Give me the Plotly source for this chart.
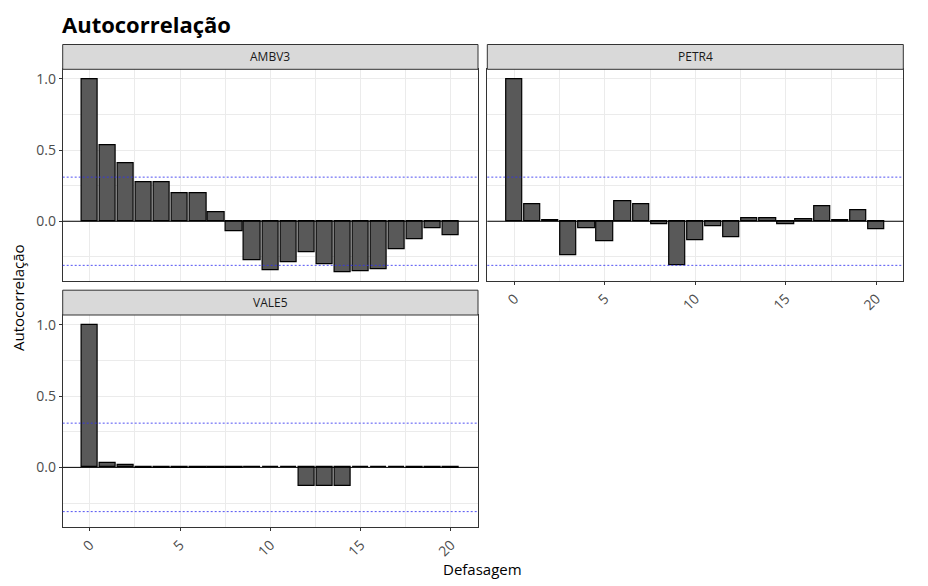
import plotly.graph_objects as go

# defasagens e autocorrelacoes
lags = list(range(0, 21))

acf_ambv3 = [1.0, 0.534, 0.41, 0.276, 0.274, 0.197, 0.197, 0.063, -0.073, -0.272, -0.342,
             -0.286, -0.22, -0.30, -0.358, -0.349, -0.337, -0.197, -0.124, -0.049, -0.098]
acf_petr4 = [1.0, 0.119, 0.007, -0.237, -0.047, -0.143, 0.143, 0.117, -0.021, -0.309, -0.131,
             -0.033, -0.11, 0.019, 0.019, -0.019, 0.012, 0.105, 0.009, 0.077, -0.054]
acf_vale5 = [1.0, 0.033, 0.014, -0.007, -0.007, -0.007, -0.007, -0.007, -0.007, 0.005, 0.005,
             0.005, -0.133, -0.133, -0.133, 0.002, 0.002, 0.002, -0.002, -0.005, -0.005]

ativos = ["AMBV3", "PETR4", "VALE5"]
limite = 0.31  # intervalo de confianca

# a pagina tem 8px de margem no body
OFF = 8
W, H = 928 - OFF, 586 - OFF
def fx(px):
    return (px - OFF) / W
def fy(px):
    return 1 - (px - OFF) / H

# paineis (em pixels da tela): x0, x1, y_top, y_bottom
paineis = [(62.7, 478, 69.3, 281), (487.3, 903.3, 69.3, 281), (62.7, 478, 315, 527.3)]
strip_h = 24.8

fig = go.Figure()

series = [acf_ambv3, acf_petr4, acf_vale5]
for i, (nome, vals) in enumerate(zip(ativos, series)):
    n = "" if i == 0 else str(i + 1)
    fig.add_trace(go.Bar(x=lags, y=vals, width=0.9, xaxis="x" + n, yaxis="y" + n,
                         marker=dict(color="#595959", line=dict(color="black", width=1.2)),
                         showlegend=False))

    x0, x1, yt, yb = paineis[i]
    grid = "#ebebeb"
    fig.layout["xaxis" + n] = dict(
        domain=[fx(x0), fx(x1)], anchor="y" + n, range=[-1.495, 21.495],
        tickvals=[0, 5, 10, 15, 20], ticktext=["0", "5", "10", "15", "20"],
        showticklabels=(i != 0), ticks="outside" if i != 0 else "", ticklen=3,
        tickcolor="#333333", tickangle=-45,
        tickfont=dict(family="Open Sans", size=14, color="#4d4d4d"),
        showgrid=True, gridcolor=grid, gridwidth=1.1,
        minor=dict(tickvals=[2.5, 7.5, 12.5, 17.5], showgrid=True, gridcolor=grid, gridwidth=0.6),
        showline=True, mirror=True, linecolor="#333333", linewidth=1, zeroline=False)
    fig.layout["yaxis" + n] = dict(
        domain=[fy(yb), fy(yt)], anchor="x" + n, range=[-0.42, 1.068],
        tickvals=[0, 0.5, 1.0], ticktext=["0.0", "0.5", "1.0"],
        showticklabels=(i != 1), ticks="outside" if i != 1 else "", ticklen=3,
        tickcolor="#333333",
        tickfont=dict(family="Open Sans", size=14, color="#4d4d4d"),
        showgrid=True, gridcolor=grid, gridwidth=1.1,
        minor=dict(tickvals=[-0.25, 0.25, 0.75], showgrid=True, gridcolor=grid, gridwidth=0.6),
        showline=True, mirror=True, linecolor="#333333", linewidth=1, zeroline=False)

    # linha do zero e limites
    fig.add_shape(type="line", xref="x" + n + " domain", yref="y" + n, x0=0, x1=1, y0=0, y1=0,
                  line=dict(color="black", width=1))
    for s in [limite, -limite]:
        fig.add_shape(type="line", xref="x" + n + " domain", yref="y" + n, x0=0, x1=1, y0=s, y1=s,
                      line=dict(color="rgba(50,50,240,0.85)", width=1, dash="2px,2px"))

    # faixa do titulo do painel
    fig.add_shape(type="rect", xref="paper", yref="paper", x0=fx(x0), x1=fx(x1),
                  y0=fy(yt), y1=fy(yt - strip_h), fillcolor="#d9d9d9",
                  line=dict(color="#333333", width=1))
    fig.add_annotation(text=nome, xref="paper", yref="paper", x=(fx(x0) + fx(x1)) / 2,
                       y=fy(yt - strip_h / 2), xanchor="center", yanchor="middle", showarrow=False,
                       font=dict(family="Open Sans", size=12, color="#1a1a1a"))

fig.add_annotation(text="<b>Autocorrelação</b>", xref="paper", yref="paper", x=fx(61), y=fy(23.5),
                   xanchor="left", yanchor="middle", showarrow=False, borderpad=0,
                   font=dict(family="Open Sans", size=22, color="black"))
fig.add_annotation(text="Autocorrelação", xref="paper", yref="paper", x=fx(18), y=fy(298),
                   xanchor="center", yanchor="middle", textangle=-90, showarrow=False,
                   font=dict(family="Open Sans", size=15, color="black"))
fig.add_annotation(text="Defasagem", xref="paper", yref="paper", x=fx(483), y=fy(569),
                   xanchor="center", yanchor="middle", showarrow=False,
                   font=dict(family="Open Sans", size=15, color="black"))

fig.update_layout(
    width=W, height=H,
    margin=dict(l=0, r=0, t=0, b=0),
    plot_bgcolor="white", paper_bgcolor="white",
    bargap=0,
)

fig.write_html("out.html")
